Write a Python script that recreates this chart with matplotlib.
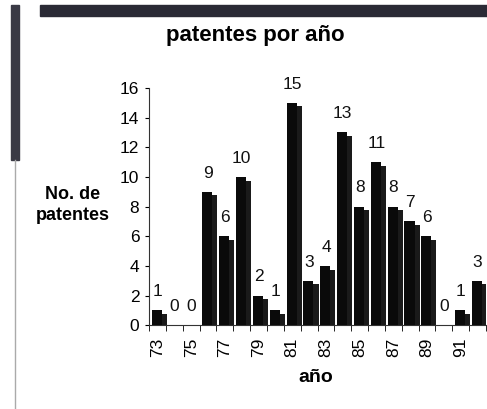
import matplotlib
matplotlib.use("Agg")
import matplotlib.pyplot as plt
import numpy as np

years = [73, 74, 75, 76, 77, 78, 79, 80, 81, 82, 83, 84, 85, 86, 87, 88, 89, 90, 91, 92]
patentes = [1, 0, 0, 9, 6, 10, 2, 1, 15, 3, 4, 13, 8, 11, 8, 7, 6, 0, 1, 3]
tick_years = [73, 75, 77, 79, 81, 83, 85, 87, 89, 91]

plt.rcParams['font.family'] = ['Liberation Sans', 'DejaVu Sans']

fig = plt.figure(figsize=(4.87, 4.09), dpi=100)
ax = fig.add_axes([0.306, 0.205, 0.692, 0.58])

x = np.arange(len(years))
vals = np.array(patentes, dtype=float)
# 3D-like bars: front face plus a slightly lower back part shifted right
ax.bar(x - 0.04, vals, width=0.6, color='#0a0a0a', edgecolor='none', zorder=3)
ax.bar(x + 0.26, np.maximum(vals - 0.25, 0), width=0.6, color='#1a1a1a', edgecolor='none', zorder=2)

for xi, v in zip(x, patentes):
    ax.annotate(str(v), (xi, v), xytext=(0, 8), textcoords='offset points',
                ha='center', va='bottom', fontsize=12.5, color='#111111')

ax.set_xlim(-0.5, len(years) - 0.5)
ax.set_ylim(0, 16)
ax.set_yticks(range(0, 17, 2))
ax.tick_params(axis='y', labelsize=12.5, length=3, direction='out', pad=4)

ax.set_xticks([years.index(t) for t in tick_years])
ax.set_xticklabels([str(t) for t in tick_years], rotation=90, fontsize=12.5)
ax.set_xticks(np.arange(-0.5, len(years), 1), minor=True)
ax.tick_params(axis='x', which='major', length=0, pad=9)
ax.tick_params(axis='x', which='minor', length=4, direction='out')

for s in ['top', 'right']:
    ax.spines[s].set_visible(False)
ax.spines['left'].set_color('#333333')
ax.spines['bottom'].set_color('#333333')

fig.text(0.524, 0.912, 'patentes por año', ha='center', va='center',
         fontsize=16, fontweight='bold')
fig.text(0.15, 0.499, 'No. de\npatentes', ha='center', va='center',
         fontsize=13, fontweight='bold', linespacing=1.25)
fig.text(0.649, 0.078, 'año', ha='center', va='center', fontsize=14, fontweight='bold')

# scan border artifacts
fig.add_artist(plt.Rectangle((0.082, 0.962), 0.918, 0.026, transform=fig.transFigure,
                             color='#2a2a35', zorder=0))
fig.add_artist(plt.Rectangle((0.022, 0.61), 0.018, 0.378, transform=fig.transFigure,
                             color='#3a3a45', zorder=0))
fig.add_artist(plt.Line2D([0.03, 0.03], [0.0, 0.61], transform=fig.transFigure,
                          color='#aaaaaa', lw=1))

fig.savefig('out.png', dpi=100)
